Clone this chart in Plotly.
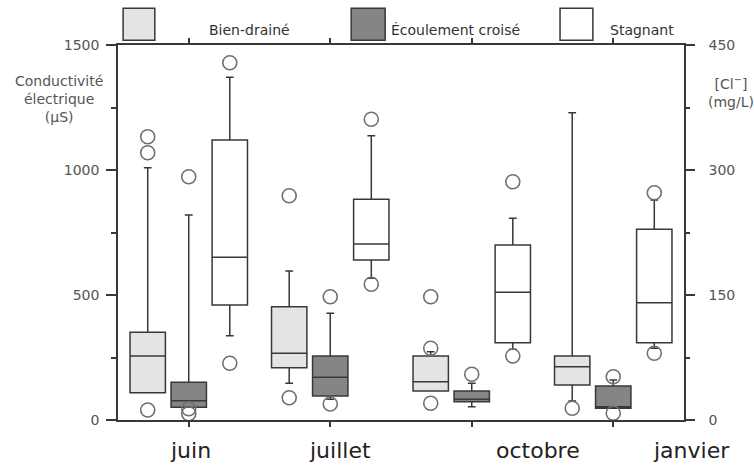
import plotly.graph_objects as go

# Conductivité par mois et par type de drainage

months = ["juin", "juillet", "octobre", "janvier"]
groups = ["Bien-drainé", "Écoulement croisé", "Stagnant"]

# box stats per group, one value per month (µS)
q1 = {
    "Bien-drainé": [109, 209, 116, 140],
    "Écoulement croisé": [51, 96, 73, 47],
    "Stagnant": [460, 640, 309, 309],
}
median = {
    "Bien-drainé": [256, 267, 153, 213],
    "Écoulement croisé": [77, 171, 83, 53],
    "Stagnant": [651, 704, 511, 469],
}
q3 = {
    "Bien-drainé": [351, 453, 256, 256],
    "Écoulement croisé": [151, 256, 116, 136],
    "Stagnant": [1120, 883, 700, 763],
}
lowerfence = {
    "Bien-drainé": [109, 147, 116, 76],
    "Écoulement croisé": [51, 83, 53, 47],
    "Stagnant": [337, 567, 283, 287],
}
upperfence = {
    "Bien-drainé": [1009, 596, 273, 1229],
    "Écoulement croisé": [820, 427, 147, 160],
    "Stagnant": [1371, 1137, 807, 880],
}
outliers = {
    "Bien-drainé": [[1133, 1069, 40], [897, 89], [493, 287, 67], [47]],
    "Écoulement croisé": [[973, 45, 25], [493, 64], [183], [173, 27]],
    "Stagnant": [[1429, 227], [1203, 543], [953, 256], [909, 267]],
}

fills = {"Bien-drainé": "#e4e4e4", "Écoulement croisé": "#858585", "Stagnant": "#ffffff"}
offsets = {"Bien-drainé": -0.29, "Écoulement croisé": 0.0, "Stagnant": 0.29}

# where the month names sit, in category units (they drift right of the ticks)
label_pos = [0.01, 1.07, 2.47, 3.55]

line_col = "#383838"
text_col = "#555555"
font = "DejaVu Sans, Verdana, sans-serif"

fig = go.Figure()

for g in groups:
    xs = [i + offsets[g] for i in range(len(months))]
    fig.add_trace(go.Box(
        x=xs,
        q1=q1[g], median=median[g], q3=q3[g],
        lowerfence=lowerfence[g], upperfence=upperfence[g],
        width=0.25,
        whiskerwidth=0.22,
        fillcolor=fills[g],
        line=dict(color=line_col, width=1.5),
        boxpoints=False,
        name=g,
        showlegend=False,
        hoverinfo="skip",
    ))
    ox, oy = [], []
    for i, vals in enumerate(outliers[g]):
        for v in vals:
            ox.append(xs[i])
            oy.append(v)
    fig.add_trace(go.Scatter(
        x=ox, y=oy, mode="markers",
        marker=dict(symbol="circle-open", size=14, color="#707070", line=dict(width=1.6)),
        showlegend=False, hoverinfo="skip",
    ))

# dummy trace so the chloride axis is drawn
fig.add_trace(go.Scatter(x=[0], y=[0], yaxis="y2", mode="markers",
                         marker=dict(opacity=0), showlegend=False, hoverinfo="skip"))

# custom legend squares above the frame
legend_x = [(0.009, 0.065), (0.412, 0.472), (0.781, 0.839)]
for g, (x0, x1) in zip(groups, legend_x):
    fig.add_shape(type="rect", xref="paper", yref="paper",
                  x0=x0, x1=x1, y0=1.013, y1=1.098,
                  fillcolor=fills[g], line=dict(color=line_col, width=1.5))

legend_txt = [(0.233, "center"), (0.479, "left"), (0.866, "left")]
for g, (tx, anch) in zip(groups, legend_txt):
    fig.add_annotation(x=tx, y=1.04, xref="paper", yref="paper", text=g,
                       showarrow=False, xanchor=anch, yanchor="middle",
                       font=dict(family=font, size=14, color="#333333"))

for m, px in zip(months, label_pos):
    fig.add_annotation(x=(px + 0.5) / 4, y=-0.08, xref="paper", yref="paper", text=m,
                       showarrow=False, xanchor="center", yanchor="middle",
                       font=dict(family=font, size=22, color="#222222"))

fig.add_annotation(x=-0.105, y=0.855, xref="paper", yref="paper",
                   text="Conductivité<br>électrique<br>(µS)", showarrow=False,
                   xanchor="center", yanchor="middle", align="center",
                   font=dict(family=font, size=14, color=text_col))
fig.add_annotation(x=1.083, y=0.875, xref="paper", yref="paper",
                   text="[Cl<sup>−</sup>]<br>(mg/L)", showarrow=False,
                   xanchor="center", yanchor="middle", align="center",
                   font=dict(family=font, size=14, color=text_col))

fig.update_layout(
    width=754, height=474,
    margin=dict(l=118, r=70, t=45, b=54),
    paper_bgcolor="white", plot_bgcolor="white",
    font=dict(family=font, size=14, color=text_col),
    xaxis=dict(range=[-0.5, 3.5], tickvals=[0, 1, 2, 3], showticklabels=False,
               ticks="outside", ticklen=5, tickcolor=line_col, tickwidth=1.5,
               showline=True, linecolor=line_col, linewidth=1.5, mirror="ticks",
               showgrid=False, zeroline=False),
    yaxis=dict(range=[0, 1500], tickvals=[0, 500, 1000, 1500],
               ticks="outside", ticklen=10, tickcolor=line_col, tickwidth=1.5,
               ticklabelstandoff=4,
               minor=dict(dtick=250, ticks="outside", ticklen=5, tickcolor=line_col),
               showline=True, linecolor=line_col, linewidth=1.5,
               showgrid=False, zeroline=False),
    yaxis2=dict(range=[0, 450], tickvals=[0, 150, 300, 450], overlaying="y", side="right",
                ticks="outside", ticklen=9, tickcolor=line_col, tickwidth=1.5,
                ticklabelstandoff=11,
                minor=dict(dtick=75, ticks="outside", ticklen=4, tickcolor=line_col),
                showline=True, linecolor=line_col, linewidth=1.5,
                showgrid=False, zeroline=False),
)

fig.write_html("out.html", config={"displayModeBar": False},
               post_script="document.body.style.margin='0';")
